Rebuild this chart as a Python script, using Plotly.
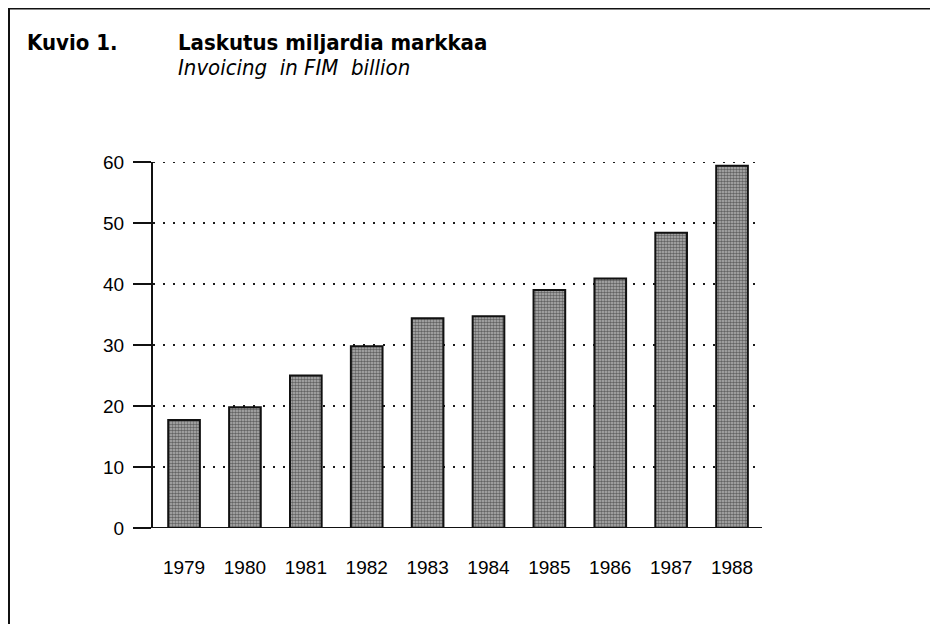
import plotly.graph_objects as go

years = ["1979", "1980", "1981", "1982", "1983", "1984", "1985", "1986", "1987", "1988"]
invoicing = [17.7, 19.8, 25.0, 29.8, 34.4, 34.7, 39.0, 40.9, 48.4, 59.4]
y_ticks = [0, 10, 20, 30, 40, 50, 60]

title_fi = "Laskutus miljardia markkaa"
title_en = "Invoicing\u00a0 in FIM\u00a0 billion"
figure_no = "Kuvio 1."

W, H = 938, 624
OFF = 8  # page body margin
L, R, T, B = 153 - OFF, 938 - (757 - OFF), 162 - OFF, 624 - (528 - OFF)
pw, ph = W - L - R, H - T - B

def px(x):
    # screen x -> paper fraction
    return (x - OFF - L) / pw

def py(y):
    # screen y -> paper fraction
    return (H - B - (y - OFF)) / ph

grid_line = dict(color="#1a1a1a", width=1.8, dash="2px,8px")

fig = go.Figure()
fig.add_trace(go.Bar(
    x=list(range(len(years))),
    y=invoicing,
    width=0.52,
    marker=dict(
        color="#8c8c8c",
        line=dict(color="#111111", width=2),
        pattern=dict(shape=".", fgcolor="#111111", bgcolor="#b4b4b4", size=3, solidity=0.55),
    ),
    hoverinfo="x+y",
))

tick_font = dict(family="Liberation Sans, Arial, Helvetica, sans-serif", size=19, color="#000000")
narrow = "Liberation Sans Narrow, Arial Narrow, DejaVu Sans Condensed, Roboto Condensed, Liberation Sans, sans-serif"

fig.update_layout(
    width=W, height=H,
    margin=dict(l=L, r=R, t=T, b=B, pad=0),
    paper_bgcolor="white", plot_bgcolor="white",
    showlegend=False,
    xaxis=dict(
        range=[-0.51, 9.41],
        tickmode="array",
        tickvals=list(range(len(years))),
        ticktext=years,
        showgrid=False, zeroline=False,
        showline=False,
        ticks="",
        tickfont=tick_font,
        ticklabelstandoff=26,
        fixedrange=True,
    ),
    yaxis=dict(
        range=[0, 60],
        tickmode="array",
        tickvals=y_ticks,
        ticktext=[str(v) for v in y_ticks],
        showgrid=True,
        gridcolor=grid_line["color"],
        gridwidth=grid_line["width"],
        griddash=grid_line["dash"],
        zeroline=False,
        showline=True, linecolor="#111111", linewidth=2,
        ticks="outside", ticklen=18, tickwidth=2, tickcolor="#111111",
        tickfont=tick_font,
        ticklabelstandoff=5,
        fixedrange=True,
    ),
    shapes=[
        # top grid line at the last tick (plotly omits the grid line at the range edge)
        dict(type="line", xref="paper", yref="y", x0=0, x1=1, y0=y_ticks[-1], y1=y_ticks[-1],
             line=grid_line, layer="below"),
        # x axis baseline extending to the right end of the grid
        dict(type="line", xref="paper", yref="y", x0=0, x1=px(762), y0=0, y1=0,
             line=dict(color="#111111", width=2)),
        # outer frame
        dict(type="rect", xref="paper", yref="paper", x0=px(8.5), x1=px(933), y0=py(680), y1=py(8),
             line=dict(color="#111111", width=3), fillcolor="rgba(0,0,0,0)"),
    ],
    annotations=[
        dict(text="<b>" + figure_no + "</b>", xref="paper", yref="paper", x=px(26), y=py(29),
             xanchor="left", yanchor="top", showarrow=False, borderpad=0,
             font=dict(family=narrow, size=22, color="#000000")),
        dict(text="<b>" + title_fi + "</b>", xref="paper", yref="paper", x=px(177), y=py(29),
             xanchor="left", yanchor="top", showarrow=False, borderpad=0,
             font=dict(family=narrow, size=22, color="#000000")),
        dict(text="<i>" + title_en + "</i>", xref="paper", yref="paper", x=px(177), y=py(54),
             xanchor="left", yanchor="top", showarrow=False, borderpad=0,
             font=dict(family=narrow, size=22, color="#000000")),
    ],
)

fig.write_html("out.html")
